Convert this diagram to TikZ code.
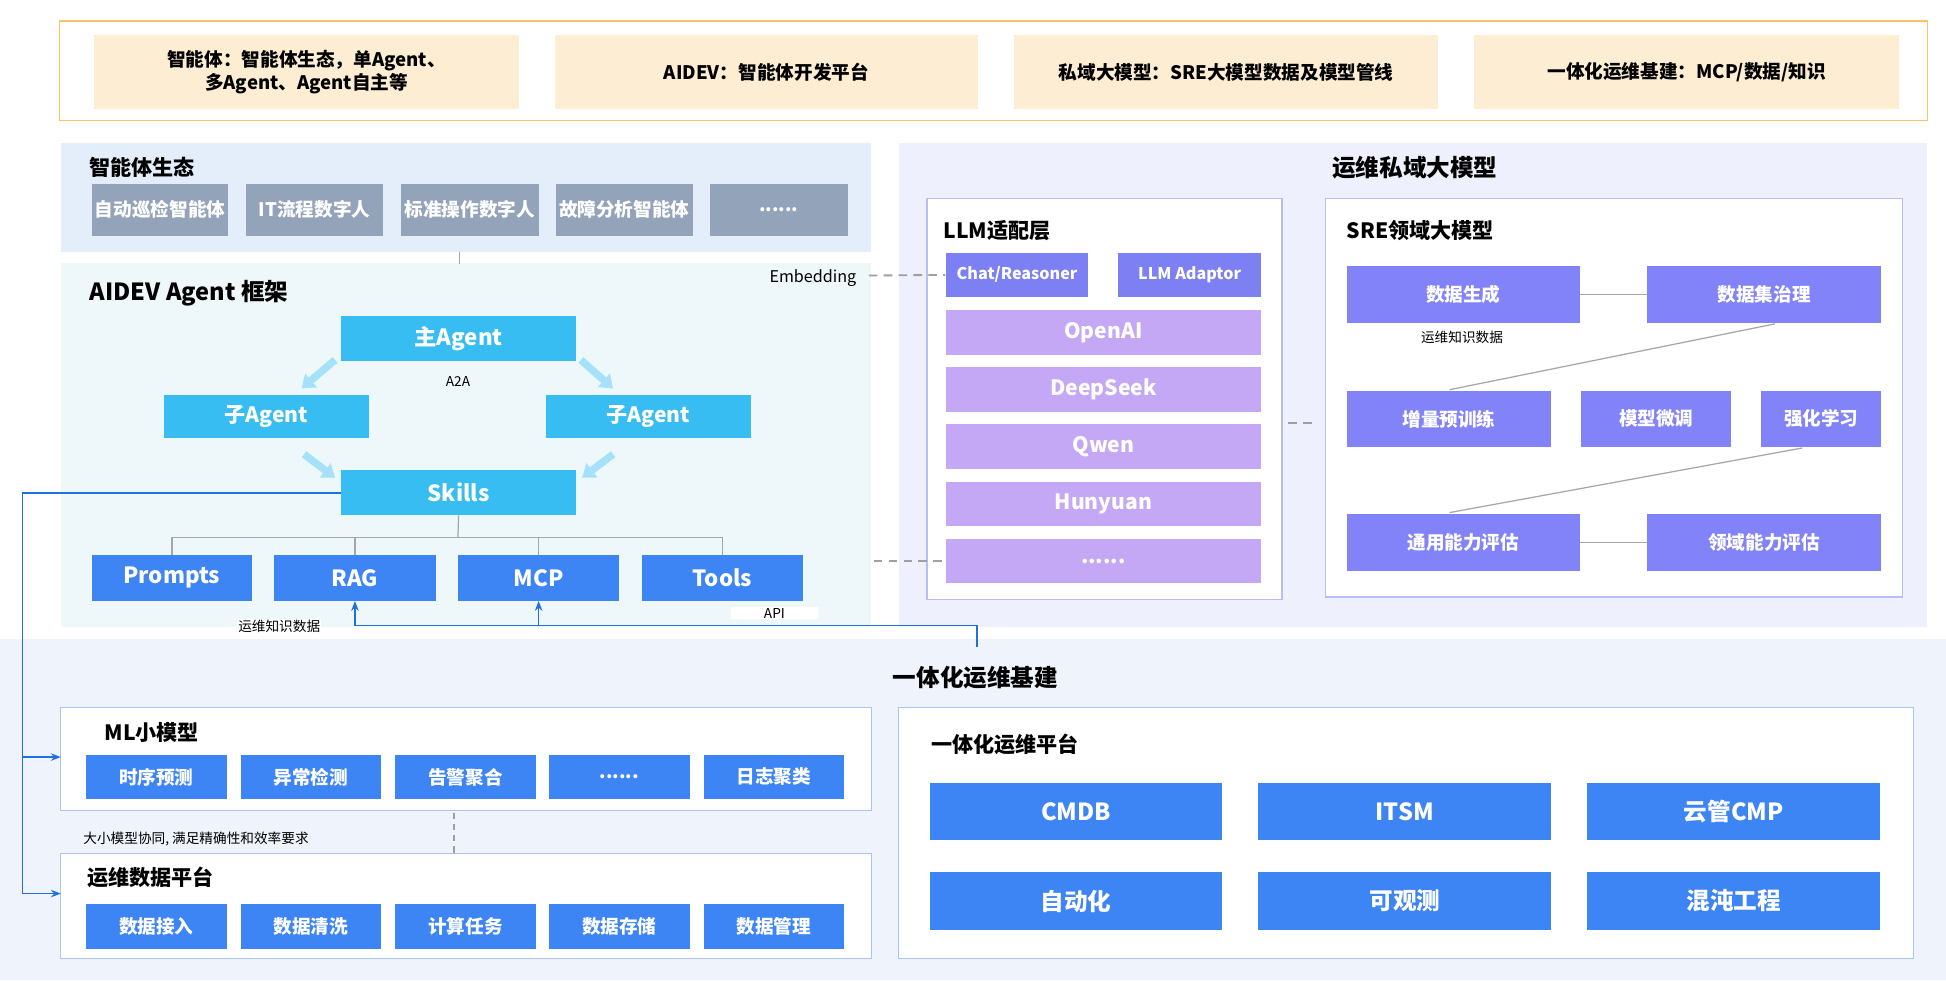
\documentclass[tikz,border=0pt]{standalone}
\usepackage{fontspec}
\setmainfont{Noto Sans CJK SC}
\usetikzlibrary{arrows.meta,positioning,calc}
\definecolor{ylw}{HTML}{FDEDD3}
\definecolor{ylwb}{HTML}{F6C56A}
\definecolor{gry}{HTML}{93A3BA}
\definecolor{cyn}{HTML}{38BDF2}
\definecolor{blu}{HTML}{3D84F5}
\definecolor{lil}{HTML}{C4A8F5}
\definecolor{ind}{HTML}{8283F8}
\definecolor{ind2}{HTML}{7C80F3}
\definecolor{bgl}{HTML}{E4EEFB}
\definecolor{bgc}{HTML}{EEF8FA}
\definecolor{bgp}{HTML}{EEF0FD}
\definecolor{bgb}{HTML}{EEF3FC}
\definecolor{brd}{HTML}{A9C6F3}
\definecolor{brp}{HTML}{B9BDF5}
\definecolor{lnk}{HTML}{1F6FE5}
\tikzset{
 x=1pt,y=-1pt,
 box/.style={draw=none,text=white,font=\fontsize{15}{16}\selectfont\bfseries,inner sep=0pt},
 yb/.style={fill=ylw,font=\fontsize{15}{19}\selectfont\bfseries,text=black,align=center,inner sep=0pt},
 ttl/.style={font=\fontsize{17}{20}\selectfont\bfseries,anchor=west,inner sep=0pt},
 sm/.style={font=\fontsize{11}{13}\selectfont,inner sep=1pt},
 gl/.style={draw=gray!70,line width=1pt},
 dl/.style={draw=gray!75,line width=1.5pt,dash pattern=on 7pt off 5pt},
 fat/.style={draw=cyn!45,line width=6pt,-{Triangle[length=10pt,width=14pt]}},
 bl/.style={draw=lnk,line width=1.3pt},
}
\newcommand{\bx}[5]{\node[#1,minimum width=#4-#2,minimum height=#5-#3] at ({(#2+#4)/2},{(#3+#5)/2})}
\begin{document}
\begin{tikzpicture}
\useasboundingbox (0,0) rectangle (1568,790);
\fill[white] (0,0) rectangle (1568,790);
% top row
\draw[ylwb,line width=1pt] (48,17) rectangle (1553,97);
\bx{yb}{76}{28}{418}{88} (t1) {智能体：智能体生态，单Agent、\\多Agent、Agent自主等};
\bx{yb}{447}{28}{788}{88} (t2) {AIDEV：智能体开发平台};
\bx{yb}{817}{28}{1159}{88} (t3) {私域大模型：SRE大模型数据及模型管线};
\bx{yb}{1188}{28}{1530}{88} (t4) {一体化运维基建：MCP/数据/知识};
% left top
\fill[bgl] (49,115) rectangle (702,203);
\node[ttl] at (72,135) {智能体生态};
\bx{box,fill=gry}{74}{148}{184}{190} (g1) {自动巡检智能体};
\bx{box,fill=gry}{198}{148}{309}{190} (g2) {IT流程数字人};
\bx{box,fill=gry}{323}{148}{434}{190} (g3) {标准操作数字人};
\bx{box,fill=gry}{448}{148}{558}{190} (g4) {故障分析智能体};
\bx{box,fill=gry}{572}{148}{683}{190} (g5) {......};
\fill[bgc] (49,212) rectangle (702,505);
\draw[gl] (370,203) -- (370,213);
\node[ttl,font=\fontsize{19}{22}\selectfont\bfseries] at (72,236) {AIDEV Agent 框架};
\node[sm,font=\fontsize{13}{15}\selectfont] (emb) at (655,224) {Embedding};
\bx{box,fill=cyn,font=\fontsize{18}{20}\selectfont\bfseries}{275}{255}{464}{291} (main) {主Agent};
\node[sm] at (369,307) {A2A};
\bx{box,fill=cyn,font=\fontsize{17}{20}\selectfont\bfseries}{132}{318}{297}{353} (subl) {子Agent};
\bx{box,fill=cyn,font=\fontsize{17}{20}\selectfont\bfseries}{440}{318}{605}{353} (subr) {子Agent};
\bx{box,fill=cyn,font=\fontsize{18}{20}\selectfont\bfseries}{275}{379}{464}{415} (skills) {Skills};
\draw[fat] (270,290) -- (243,313);
\draw[fat] (468,290) -- (494,313);
\draw[fat] (245,366) -- (270,385);
\draw[fat] (494,366) -- (469,385);
\bx{box,fill=blu,font=\fontsize{18}{20}\selectfont\bfseries}{74}{447}{203}{484} (pr) {Prompts};
\bx{box,fill=blu,font=\fontsize{18}{20}\selectfont\bfseries}{221}{447}{351}{484} (rag) {RAG};
\bx{box,fill=blu,font=\fontsize{18}{20}\selectfont\bfseries}{369}{447}{499}{484} (mcp) {MCP};
\bx{box,fill=blu,font=\fontsize{18}{20}\selectfont\bfseries}{517}{447}{647}{484} (tools) {Tools};
\draw[gl] (skills.south) -- (369,433);
\draw[gl] (pr.north) |- (369,433) -| (tools.north);
\draw[gl] (rag.north) -- (286,433);
\draw[gl] (mcp.north) -- (434,433);
% right top
\fill[bgp] (724,115) rectangle (1553,505);
\node[font=\fontsize{19}{22}\selectfont\bfseries] at (1140,135) {运维私域大模型};
\draw[fill=white,draw=brp,line width=1pt] (747,160) rectangle (1033,483);
\node[ttl] at (760,186) {LLM适配层};
\bx{box,fill=ind2,font=\fontsize{13}{15}\selectfont\bfseries}{762}{204}{877}{239} (chat) {Chat/Reasoner};
\bx{box,fill=ind2,font=\fontsize{13}{15}\selectfont\bfseries}{901}{204}{1016}{239} (ada) {LLM Adaptor};
\bx{box,fill=lil,font=\fontsize{17}{20}\selectfont\bfseries}{762}{250}{1016}{286} (oai) {OpenAI};
\bx{box,fill=lil,font=\fontsize{17}{20}\selectfont\bfseries}{762}{296}{1016}{332} (ds) {DeepSeek};
\bx{box,fill=lil,font=\fontsize{17}{20}\selectfont\bfseries}{762}{342}{1016}{378} (qw) {Qwen};
\bx{box,fill=lil,font=\fontsize{17}{20}\selectfont\bfseries}{762}{388}{1016}{424} (hy) {Hunyuan};
\bx{box,fill=lil,font=\fontsize{17}{20}\selectfont\bfseries}{762}{434}{1016}{470} (dots) {......};
\coordinate (e1) at (700,222);
\coordinate (e2) at (704,452);
\coordinate (e3) at (1038,341);
\coordinate (e4) at (1062,341);
\draw[dl] (e1) -- (chat.west);
\draw[dl] (e2) -- (dots.west);
\draw[dl] (e3) -- (e4);
\draw[fill=white,draw=brp,line width=1pt] (1068,160) rectangle (1533,481);
\node[ttl] at (1085,186) {SRE领域大模型};
\bx{box,fill=ind}{1085}{214}{1273}{260} (s1) {数据生成};
\bx{box,fill=ind}{1327}{214}{1516}{260} (s2) {数据集治理};
\bx{box,fill=ind}{1085}{315}{1250}{360} (s3) {增量预训练};
\bx{box,fill=ind}{1274}{315}{1395}{360} (s4) {模型微调};
\bx{box,fill=ind}{1419}{315}{1516}{360} (s5) {强化学习};
\bx{box,fill=ind}{1085}{414}{1273}{460} (s6) {通用能力评估};
\bx{box,fill=ind}{1327}{414}{1516}{460} (s7) {领域能力评估};
\node[sm] at (1178,272) {运维知识数据};
\draw[gl] (s1) -- (s2);
\draw[gl] (s6) -- (s7);
\draw[gl] (1430,261) -- (1168,314);
\draw[gl] (1452,361) -- (1168,413);
% bottom
\fill[bgb] (0,515) rectangle (1568,790);
\node[font=\fontsize{19}{22}\selectfont\bfseries] at (786,546) {一体化运维基建};
\draw[fill=white,draw=brd,line width=1pt] (49,570) rectangle (702,653);
\node[ttl] at (84,590) {ML小模型};
\foreach \n/\a/\b/\t in {m1/69/183/时序预测,m2/194/307/异常检测,m3/318/432/告警聚合,m4/442/556/{......},m5/567/680/日志聚类}
 {\bx{box,fill=blu}{\a}{608}{\b}{644} (\n) {\t};}
\draw[dl,line width=1.2pt,dash pattern=on 5pt off 4pt] (366,655) -- (366,688);
\node[sm,anchor=west] at (66,676) {大小模型协同, 满足精确性和效率要求};
\draw[fill=white,draw=brd,line width=1pt] (49,688) rectangle (702,772);
\node[ttl] at (70,707) {运维数据平台};
\foreach \n/\a/\b/\t in {d1/69/183/数据接入,d2/194/307/数据清洗,d3/318/432/计算任务,d4/442/556/数据存储,d5/567/680/数据管理}
 {\bx{box,fill=blu}{\a}{728}{\b}{765} (\n) {\t};}
\draw[fill=white,draw=brd,line width=1pt] (724,570) rectangle (1542,772);
\node[ttl] at (750,600) {一体化运维平台};
\bx{box,fill=blu,font=\fontsize{19}{22}\selectfont\bfseries}{749}{631}{985}{677} (p1) {CMDB};
\bx{box,fill=blu,font=\fontsize{19}{22}\selectfont\bfseries}{1014}{631}{1250}{677} (p2) {ITSM};
\bx{box,fill=blu,font=\fontsize{19}{22}\selectfont\bfseries}{1279}{631}{1515}{677} (p3) {云管CMP};
\bx{box,fill=blu,font=\fontsize{19}{22}\selectfont\bfseries}{749}{703}{985}{749} (p4) {自动化};
\bx{box,fill=blu,font=\fontsize{19}{22}\selectfont\bfseries}{1014}{703}{1250}{749} (p5) {可观测};
\bx{box,fill=blu,font=\fontsize{19}{22}\selectfont\bfseries}{1279}{703}{1515}{749} (p6) {混沌工程};
% connectors
\coordinate (ml) at (49,610);
\coordinate (dp) at (49,720);
\draw[bl] (skills.west) -| (18,610);
\draw[bl,-{Stealth[length=8pt]}] (18,400) |- (ml);
\draw[bl,-{Stealth[length=8pt]}] (18,600) |- (dp);
\coordinate (src) at (787,521);
\draw[bl,-{Stealth[length=8pt]}] (src) |- (286,504) -- (rag.south);
\draw[bl,-{Stealth[length=8pt]}] (434,504) -- (mcp.south);
\node[sm,fill=white] at (225,505) {运维知识数据};
\node[sm,fill=white,minimum width=70pt] at (624,494) {API};
\end{tikzpicture}
\end{document}
